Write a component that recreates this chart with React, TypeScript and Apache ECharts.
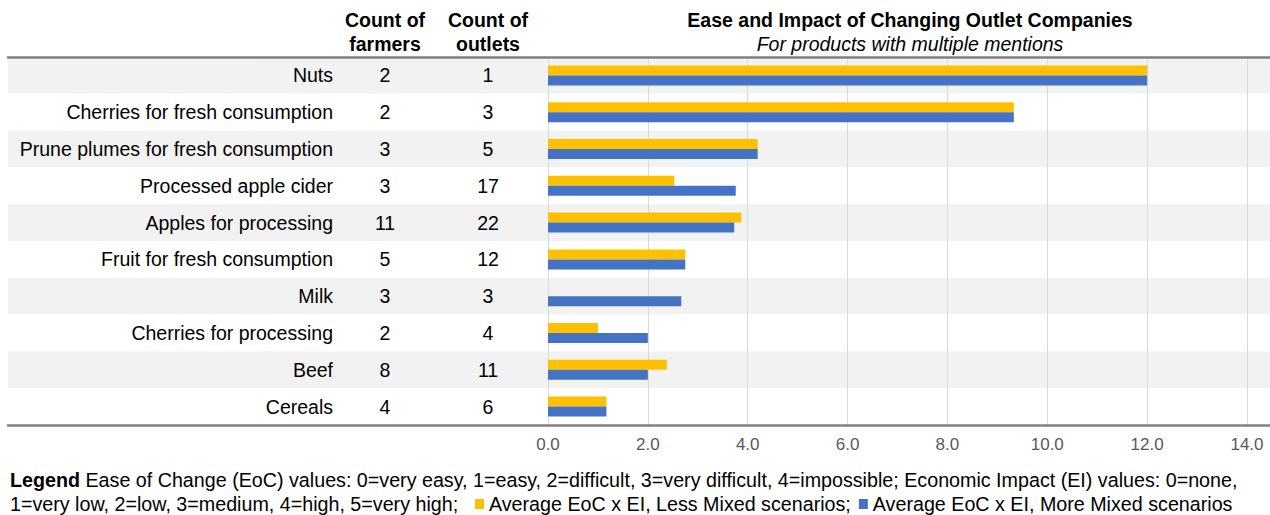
import React, { useEffect, useRef } from "react";
import * as echarts from "echarts";

const categories = [
  "Nuts",
  "Cherries for fresh consumption",
  "Prune plumes for fresh consumption",
  "Processed apple cider",
  "Apples for processing",
  "Fruit for fresh consumption",
  "Milk",
  "Cherries for processing",
  "Beef",
  "Cereals",
];
const farmers = [2, 2, 3, 3, 11, 5, 3, 2, 8, 4];
const outlets = [1, 3, 5, 17, 22, 12, 3, 4, 11, 6];
const lessMixed = [12.0, 9.33, 4.2, 2.53, 3.87, 2.75, 0, 1.0, 2.38, 1.17];
const moreMixed = [12.0, 9.33, 4.2, 3.76, 3.73, 2.75, 2.67, 2.0, 2.0, 1.17];
const seriesNames = [
  "Average EoC x EI, Less Mixed scenarios",
  "Average EoC x EI, More Mixed scenarios",
];
const titleText = "Ease and Impact of Changing Outlet Companies";
const subtitleText = "For products with multiple mentions";
const legendLine1 =
  "Ease of Change (EoC) values: 0=very easy, 1=easy, 2=difficult, 3=very difficult, 4=impossible; Economic Impact (EI) values: 0=none,";
const legendLine2 = "1=very low, 2=low, 3=medium, 4=high, 5=very high;";

const FONT = "'Liberation Sans', Arial, sans-serif";
const LABEL_SIZE = 19.5;
const LEGEND_SIZE = 19.7;

const hiddenCat = {
  type: "category",
  position: "left",
  offset: 0,
  data: categories,
  inverse: true,
  axisLine: { show: false },
  axisTick: { show: false },
  splitLine: { show: false },
};

export default function App() {
  const ref = useRef<HTMLDivElement>(null);
  useEffect(() => {
    document.body.style.margin = "0";
    const chart = echarts.init(ref.current!, undefined, { renderer: "svg" });
    const option: any = {
      animation: false,
      textStyle: { fontFamily: FONT },
      title: {
        text: titleText,
        subtext: subtitleText,
        left: 905,
        top: 5,
        textAlign: "center",
        itemGap: 4,
        textStyle: { fontFamily: FONT, fontSize: 19.5, fontWeight: "bold", color: "#000" },
        subtextStyle: { fontFamily: FONT, fontSize: 19.5, fontStyle: "italic", color: "#000" },
      },
      grid: [
        { left: 8, right: 0, top: 57, bottom: 90, containLabel: false, outerBoundsMode: "none" },
        { left: 548, right: 23, top: 57, bottom: 90, containLabel: false, outerBoundsMode: "none" },
      ],
      xAxis: [
        {
          gridIndex: 0,
          type: "value",
          position: "bottom",
          min: 0,
          max: 1,
          axisLine: { show: true, lineStyle: { color: "#808080", width: 2.5 } },
          axisTick: { show: false },
          axisLabel: { show: false },
          splitLine: { show: false },
        },
        {
          gridIndex: 0,
          type: "value",
          position: "top",
          min: 0,
          max: 1,
          axisLine: { show: true, lineStyle: { color: "#808080", width: 2.5 } },
          axisTick: { show: false },
          axisLabel: { show: false },
          splitLine: { show: false },
        },
        {
          gridIndex: 1,
          type: "value",
          position: "bottom",
          min: 0,
          max: 14,
          interval: 2,
          axisLine: { show: false },
          axisTick: { show: false },
          splitLine: { show: true, lineStyle: { color: "#D9D9D9", width: 1 } },
          axisLabel: {
            formatter: (v: number) => v.toFixed(1),
            color: "#595959",
            fontSize: 17,
            fontFamily: FONT,
            margin: 11,
          },
        },
      ],
      yAxis: [
        {
          ...hiddenCat,
          gridIndex: 0,
          axisLabel: { show: false },
          splitArea: { show: true, areaStyle: { color: ["#F2F2F2", "#FFFFFF"] } },
        },
        {
          ...hiddenCat,
          gridIndex: 1,
          axisLabel: {
            margin: 215,
            align: "right",
            fontSize: LABEL_SIZE,
            color: "#000",
            fontFamily: FONT,
          },
        },
        {
          ...hiddenCat,
          gridIndex: 1,
          axisLabel: {
            margin: 163,
            align: "center",
            fontSize: LABEL_SIZE,
            color: "#000",
            fontFamily: FONT,
            formatter: (_v: string, i: number) => String(farmers[i]),
          },
        },
        {
          ...hiddenCat,
          gridIndex: 1,
          axisLabel: {
            margin: 60,
            align: "center",
            fontSize: LABEL_SIZE,
            color: "#000",
            fontFamily: FONT,
            formatter: (_v: string, i: number) => String(outlets[i]),
          },
        },
      ],
      legend: {
        data: seriesNames,
        left: 475,
        top: 494,
        icon: "rect",
        itemWidth: 9,
        itemHeight: 10,
        itemGap: 8,
        padding: 0,
        formatter: (name: string) => (name === seriesNames[0] ? name + ";" : name),
        textStyle: { fontFamily: FONT, fontSize: LEGEND_SIZE, color: "#000" },
      },
      graphic: [
        {
          type: "text",
          x: 385,
          y: 32,
          style: {
            text: "Count of\nfarmers",
            align: "center",
            verticalAlign: "middle",
            fontFamily: FONT,
            fontSize: LABEL_SIZE,
            fontWeight: "bold",
            lineHeight: 24,
            fill: "#000",
          },
        },
        {
          type: "text",
          x: 488,
          y: 32,
          style: {
            text: "Count of\noutlets",
            align: "center",
            verticalAlign: "middle",
            fontFamily: FONT,
            fontSize: LABEL_SIZE,
            fontWeight: "bold",
            lineHeight: 24,
            fill: "#000",
          },
        },
        {
          type: "text",
          x: 10,
          y: 480,
          style: {
            text: "{b|Legend} " + legendLine1,
            verticalAlign: "middle",
            fontFamily: FONT,
            fontSize: LEGEND_SIZE,
            fill: "#000",
            rich: {
              b: { fontWeight: "bold", fontFamily: FONT, fontSize: LEGEND_SIZE, fill: "#000" },
            },
          },
        },
        {
          type: "text",
          x: 10,
          y: 504,
          style: {
            text: legendLine2,
            verticalAlign: "middle",
            fontFamily: FONT,
            fontSize: LEGEND_SIZE,
            fill: "#000",
          },
        },
      ],
      series: [
        {
          type: "bar",
          name: seriesNames[0],
          xAxisIndex: 2,
          yAxisIndex: 1,
          data: lessMixed,
          barWidth: 10,
          barGap: "0%",
          itemStyle: { color: "#FFC000" },
        },
        {
          type: "bar",
          name: seriesNames[1],
          xAxisIndex: 2,
          yAxisIndex: 1,
          data: moreMixed,
          barWidth: 10,
          barGap: "0%",
          itemStyle: { color: "#4472C4" },
        },
      ],
    };
    chart.setOption(option);
    return () => chart.dispose();
  }, []);
  return <div ref={ref} style={{ width: 1270, height: 515 }} />;
}
